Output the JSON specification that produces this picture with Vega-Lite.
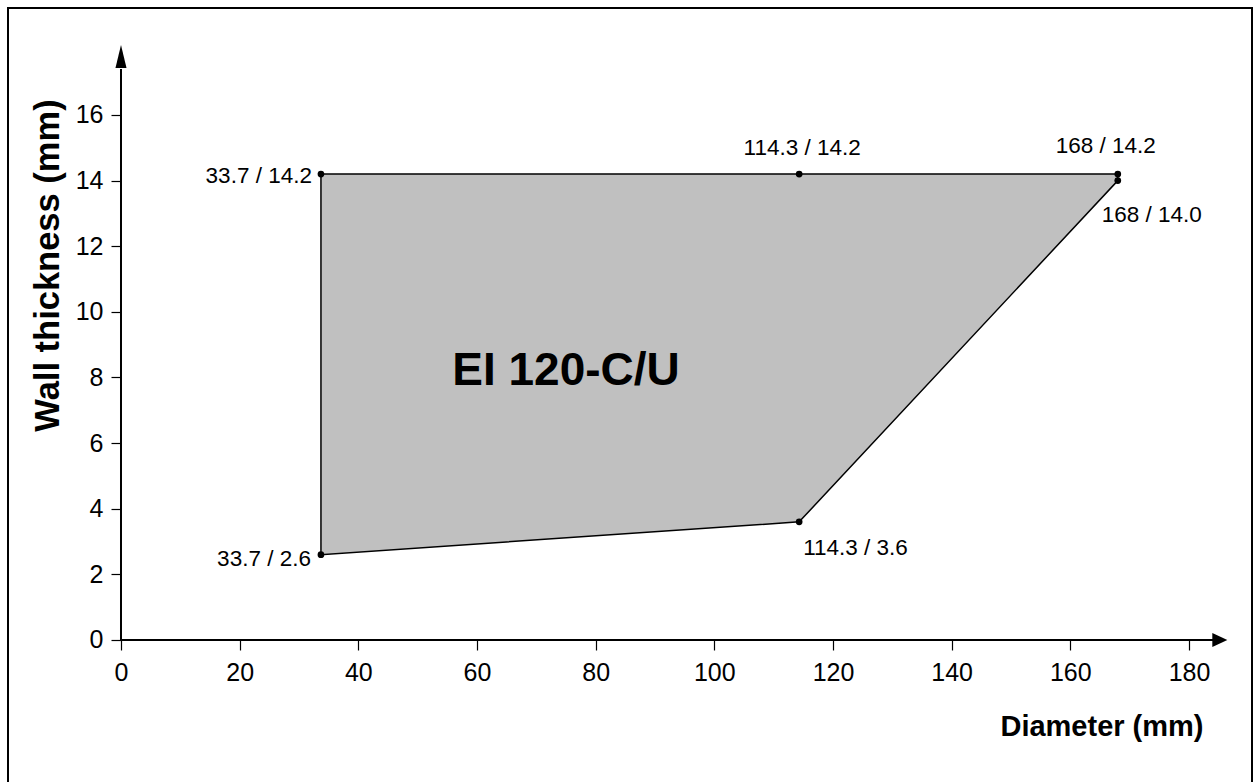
{
  "$schema": "https://vega.github.io/schema/vega-lite/v6.json",
  "width": 1244,
  "height": 776,
  "autosize": "none",
  "padding": {"left": 8, "top": 8, "right": 3, "bottom": 0},
  "background": "white",
  "config": {
    "view": {"stroke": "black", "strokeWidth": 2},
    "font": "Liberation Sans, Arial, sans-serif"
  },
  "datasets": {
    "region": [
      {"diameter": 33.7, "top": 14.2, "bottom": 2.6},
      {"diameter": 114.3, "top": 14.2, "bottom": 3.6},
      {"diameter": 168, "top": 14.2, "bottom": 14.0}
    ],
    "points": [
      {"diameter": 33.7, "thickness": 14.2, "label": "33.7 / 14.2"},
      {"diameter": 114.3, "thickness": 14.2, "label": "114.3 / 14.2"},
      {"diameter": 168, "thickness": 14.2, "label": "168 / 14.2"},
      {"diameter": 168, "thickness": 14.0, "label": "168 / 14.0"},
      {"diameter": 114.3, "thickness": 3.6, "label": "114.3 / 3.6"},
      {"diameter": 33.7, "thickness": 2.6, "label": "33.7 / 2.6"}
    ],
    "name": [
      {"diameter": 75, "thickness": 8.2, "label": "EI 120-C/U"}
    ],
    "one": [{}]
  },
  "layer": [
    {
      "data": {"name": "region"},
      "mark": {"type": "area", "fill": "#c0c0c0", "stroke": "black", "strokeWidth": 1.5, "opacity": 1},
      "encoding": {
        "x": {
          "field": "diameter", "type": "quantitative",
          "scale": {"domain": [-19.045, 190.62], "nice": false, "zero": false},
          "axis": {
            "values": [0, 20, 40, 60, 80, 100, 120, 140, 160, 180],
            "offset": -144, "domain": false, "grid": false,
            "tickSize": 10, "tickColor": "black", "tickWidth": 1.2,
            "labelFontSize": 25, "labelColor": "black", "labelPadding": 10,
            "labelFont": "Liberation Sans, Arial, sans-serif",
            "labelFlush": false,
            "title": "Diameter (mm)", "titleFontSize": 29, "titleFontWeight": "bold",
            "titleFont": "Liberation Sans, Arial, sans-serif",
            "titleColor": "black", "titleX": 1195, "titleY": 95,
            "titleAlign": "right", "titleBaseline": "alphabetic"
          }
        },
        "y": {
          "field": "top", "type": "quantitative",
          "scale": {"domain": [-4.389, 19.261], "nice": false, "zero": false},
          "axis": {
            "values": [0, 2, 4, 6, 8, 10, 12, 14, 16],
            "offset": -113, "domain": false, "grid": false,
            "tickSize": 10, "tickColor": "black", "tickWidth": 1.2,
            "labelFontSize": 25, "labelColor": "black", "labelPadding": 8,
            "labelFont": "Liberation Sans, Arial, sans-serif",
            "labelFlush": false,
            "title": "Wall thickness (mm)", "titleFontSize": 34.5, "titleFontWeight": "bold",
            "titleFont": "Liberation Sans, Arial, sans-serif",
            "titleColor": "black", "titleAngle": 270, "titleX": -73, "titleY": 257,
            "titleAlign": "center", "titleBaseline": "middle"
          }
        },
        "y2": {"field": "bottom"}
      }
    },
    {
      "data": {"name": "one"},
      "mark": {"type": "rule", "color": "black", "strokeWidth": 2},
      "encoding": {"x": {"datum": 0}, "x2": {"datum": 185}, "y": {"datum": 0}}
    },
    {
      "data": {"name": "one"},
      "mark": {"type": "rule", "color": "black", "strokeWidth": 2},
      "encoding": {"x": {"datum": 0}, "y": {"datum": 0}, "y2": {"datum": 17.4}}
    },
    {
      "data": {"name": "one"},
      "mark": {"type": "point", "filled": true, "color": "black", "opacity": 1, "size": 225, "shape": "M-1,-0.93L1,0L-1,0.93Z"},
      "encoding": {"x": {"datum": 185.2}, "y": {"datum": 0}}
    },
    {
      "data": {"name": "one"},
      "mark": {"type": "point", "filled": true, "color": "black", "opacity": 1, "size": 529, "shape": "M-0.48,1L0,-1L0.48,1Z"},
      "encoding": {"x": {"datum": 0}, "y": {"datum": 17.78}}
    },
    {
      "data": {"name": "points"},
      "mark": {"type": "point", "filled": true, "color": "black", "opacity": 1, "size": 45},
      "encoding": {
        "x": {"field": "diameter", "type": "quantitative"},
        "y": {"field": "thickness", "type": "quantitative"}
      }
    },
    {
      "data": {"name": "points"},
      "transform": [{"filter": "datum.label == '33.7 / 14.2'"}],
      "mark": {"type": "text", "align": "right", "baseline": "middle", "dx": -9, "dy": 2, "fontSize": 22.5, "color": "black"},
      "encoding": {"x": {"field": "diameter", "type": "quantitative"}, "y": {"field": "thickness", "type": "quantitative"}, "text": {"field": "label"}}
    },
    {
      "data": {"name": "points"},
      "transform": [{"filter": "datum.label == '114.3 / 14.2'"}],
      "mark": {"type": "text", "align": "center", "baseline": "alphabetic", "dx": 3, "dy": -19, "fontSize": 22.5, "color": "black"},
      "encoding": {"x": {"field": "diameter", "type": "quantitative"}, "y": {"field": "thickness", "type": "quantitative"}, "text": {"field": "label"}}
    },
    {
      "data": {"name": "points"},
      "transform": [{"filter": "datum.label == '168 / 14.2'"}],
      "mark": {"type": "text", "align": "center", "baseline": "alphabetic", "dx": -12, "dy": -21, "fontSize": 22.5, "color": "black"},
      "encoding": {"x": {"field": "diameter", "type": "quantitative"}, "y": {"field": "thickness", "type": "quantitative"}, "text": {"field": "label"}}
    },
    {
      "data": {"name": "points"},
      "transform": [{"filter": "datum.label == '168 / 14.0'"}],
      "mark": {"type": "text", "align": "left", "baseline": "alphabetic", "dx": -16, "dy": 41, "fontSize": 22.5, "color": "black"},
      "encoding": {"x": {"field": "diameter", "type": "quantitative"}, "y": {"field": "thickness", "type": "quantitative"}, "text": {"field": "label"}}
    },
    {
      "data": {"name": "points"},
      "transform": [{"filter": "datum.label == '114.3 / 3.6'"}],
      "mark": {"type": "text", "align": "left", "baseline": "alphabetic", "dx": 4, "dy": 33, "fontSize": 22.5, "color": "black"},
      "encoding": {"x": {"field": "diameter", "type": "quantitative"}, "y": {"field": "thickness", "type": "quantitative"}, "text": {"field": "label"}}
    },
    {
      "data": {"name": "points"},
      "transform": [{"filter": "datum.label == '33.7 / 2.6'"}],
      "mark": {"type": "text", "align": "right", "baseline": "alphabetic", "dx": -10, "dy": 11, "fontSize": 22.5, "color": "black"},
      "encoding": {"x": {"field": "diameter", "type": "quantitative"}, "y": {"field": "thickness", "type": "quantitative"}, "text": {"field": "label"}}
    },
    {
      "data": {"name": "name"},
      "mark": {"type": "text", "align": "center", "baseline": "middle", "fontSize": 46, "fontWeight": "bold", "color": "black"},
      "encoding": {"x": {"field": "diameter", "type": "quantitative"}, "y": {"field": "thickness", "type": "quantitative"}, "text": {"field": "label"}}
    }
  ]
}
